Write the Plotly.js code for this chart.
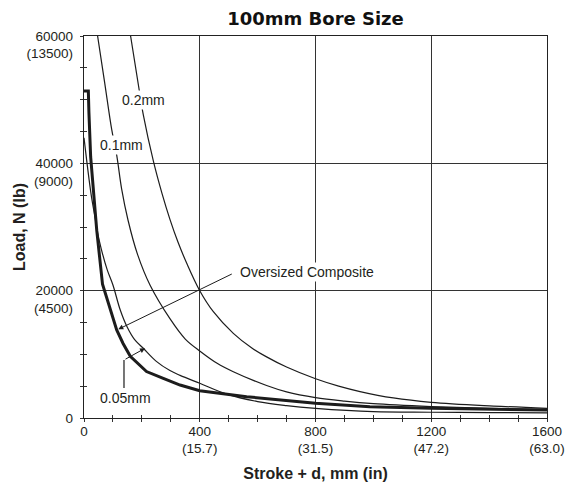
<!DOCTYPE html>
<html>
<head>
<meta charset="utf-8">
<script src="https://cdn.plot.ly/plotly-3.0.1.min.js"></script>
<style>html,body{margin:0;padding:0;background:#fff;}#chart{width:570px;height:485px;}</style>
</head>
<body>
<div id="chart"></div>
<script>
// Stroke + d (mm) and Load (N)
const compositeX = [0, 15, 17, 23, 44, 64, 113, 135, 160, 216, 274, 332, 400, 562, 800, 988, 1200, 1600];
const compositeY = [51360, 51360, 48000, 41000, 29500, 21000, 13820, 11700, 9700, 7300, 6230, 5180, 4290, 3350, 2300, 1780, 1520, 1260];

const gap05X = [0, 10, 25, 40, 45, 60, 80, 100, 125, 150, 175, 205, 250, 297, 332, 400, 493, 600, 700, 800, 1000, 1200, 1400, 1600];
const gap05Y = [44000, 40200, 35000, 31000, 29500, 26500, 23300, 20890, 17000, 14200, 12300, 10950, 8900, 7450, 6700, 5450, 3750, 2580, 1950, 1520, 990, 900, 850, 800];

const gap10X = [47, 71, 96, 113, 130, 152, 185, 228, 297, 350, 401, 460, 516, 631, 700, 800, 900, 1000, 1200, 1400, 1600];
const gap10Y = [60000, 52800, 45240, 41300, 36000, 31100, 25700, 20890, 15600, 12400, 10500, 8600, 7270, 5100, 4100, 3200, 2650, 2250, 1800, 1500, 1300];

const gap20X = [161, 188, 205, 240, 270, 297, 325, 355, 400, 447, 516, 580, 631, 700, 798, 880, 954, 1069, 1200, 1415, 1600];
const gap20Y = [60000, 52300, 47600, 40300, 35200, 31200, 27600, 24300, 20000, 16700, 13300, 11000, 9600, 8000, 6200, 5000, 4150, 3150, 2460, 1880, 1520];

const xTickVals = [0, 400, 800, 1200, 1600];
const xTickText = ['0', '400<br>(15.7)', '800<br>(31.5)', '1200<br>(47.2)', '1600<br>(63.0)'];
const yTickVals = [0, 20000, 40000, 60000];
const yTickText = ['0', '\u00a0<br>20000<br>(4500)', '\u00a0<br>40000<br>(9000)', '\u00a0<br>60000<br>(13500)'];

const ink = '#1c1c1c';
const thin = {color: ink, width: 1.2, shape: 'spline', smoothing: 1};

const traces = [
  {x: gap20X, y: gap20Y, mode: 'lines', line: thin, hoverinfo: 'skip'},
  {x: gap10X, y: gap10Y, mode: 'lines', line: thin, hoverinfo: 'skip'},
  {x: gap05X, y: gap05Y, mode: 'lines', line: thin, hoverinfo: 'skip'},
  {x: compositeX, y: compositeY, mode: 'lines', line: {color: ink, width: 3, shape: 'linear'}, hoverinfo: 'skip'},
  {x: [], y: [], xaxis: 'x2', yaxis: 'y2', mode: 'lines', hoverinfo: 'skip'}
];

const tickFont = {family: 'Liberation Sans, Arial, sans-serif', size: 13.5, color: '#231f20'};
const labFont = {family: 'Liberation Sans, Arial, sans-serif', size: 14, color: '#231f20'};

const layout = {
  width: 570, height: 485,
  margin: {l: 84, r: 23, t: 36, b: 67},
  paper_bgcolor: '#fff', plot_bgcolor: '#fff',
  showlegend: false,
  title: {text: '100mm Bore Size', font: {family: 'DejaVu Sans', size: 18, weight: 'bold', color: '#111'},
          x: 0.5, xref: 'paper', xanchor: 'center', y: 1 - 19/485, yref: 'container', yanchor: 'middle'},
  xaxis: {
    range: [0, 1600], tickvals: xTickVals, ticktext: xTickText, tickfont: tickFont,
    ticks: 'inside', ticklen: 3, tickcolor: '#333',
    minor: {dtick: 100, ticks: 'inside', ticklen: 3, tickcolor: '#333', showgrid: false},
    showgrid: true, gridcolor: '#333', gridwidth: 1,
    showline: true, linecolor: '#222', linewidth: 1.3, mirror: true, zeroline: false,
    title: {text: 'Stroke + d, mm (in)', font: {family: 'Liberation Sans, Arial, sans-serif', size: 16, weight: 'bold', color: '#231f20'}, standoff: 12},
    fixedrange: true
  },
  yaxis: {
    range: [0, 60000], tickvals: yTickVals, ticktext: yTickText, tickfont: tickFont,
    ticks: 'inside', ticklen: 3, tickcolor: '#333', ticklabelstandoff: 7,
    minor: {dtick: 5000, ticks: 'inside', ticklen: 3, tickcolor: '#333', showgrid: false},
    showgrid: true, gridcolor: '#333', gridwidth: 1,
    showline: true, linecolor: '#222', linewidth: 1.3, mirror: true, zeroline: false,
    fixedrange: true
  },
  xaxis2: {overlaying: 'x', anchor: 'y', range: [0, 1600], dtick: 100, ticks: 'outside', ticklen: 3, tickcolor: '#333',
           showticklabels: false, showgrid: false, showline: false, zeroline: false},
  yaxis2: {overlaying: 'y', anchor: 'x', side: 'left', range: [0, 60000], dtick: 5000, ticks: 'outside', ticklen: 3, tickcolor: '#333',
           showticklabels: false, showgrid: false, showline: false, zeroline: false},
  shapes: [
    {type: 'line', xref: 'x', yref: 'y', x0: 138.2, y0: 9110, x1: 138.2, y1: 4712, line: {color: ink, width: 1.2}}
  ],
  annotations: [
    {text: 'Load, N (lb)', xref: 'paper', yref: 'paper', x: (19 - 84) / 463, y: 0.5, textangle: -90,
     showarrow: false, xanchor: 'center', yanchor: 'middle',
     font: {family: 'Liberation Sans, Arial, sans-serif', size: 16, weight: 'bold', color: '#231f20'}},
    {text: '0.2mm', x: 207.3, y: 49950, xref: 'x', yref: 'y', showarrow: false, bgcolor: '#fff', borderpad: 1, font: labFont},
    {text: '0.1mm', x: 129.6, y: 42880, xref: 'x', yref: 'y', showarrow: false, bgcolor: '#fff', borderpad: 1, font: labFont},
    {text: '0.05mm', x: 141.7, y: 3141, xref: 'x', yref: 'y', showarrow: false, bgcolor: '#fff', borderpad: 1, font: labFont},
    {text: 'Oversized Composite', x: 532, y: 22930, xref: 'x', yref: 'y', xanchor: 'left', showarrow: false, bgcolor: '#fff', borderpad: 1, font: labFont},
    {text: '', x: 118.5, y: 13932, xref: 'x', yref: 'y', showarrow: true, ax: 115, ay: -56,
     arrowhead: 2, arrowsize: 1, arrowwidth: 1, arrowcolor: ink},
    {text: '', x: 210.8, y: 10947, xref: 'x', yref: 'y', showarrow: true, ax: -21, ay: 11.7,
     arrowhead: 2, arrowsize: 1, arrowwidth: 1, arrowcolor: ink}
  ]
};

Plotly.newPlot('chart', traces, layout, {staticPlot: true, displayModeBar: false});
</script>
</body>
</html>
